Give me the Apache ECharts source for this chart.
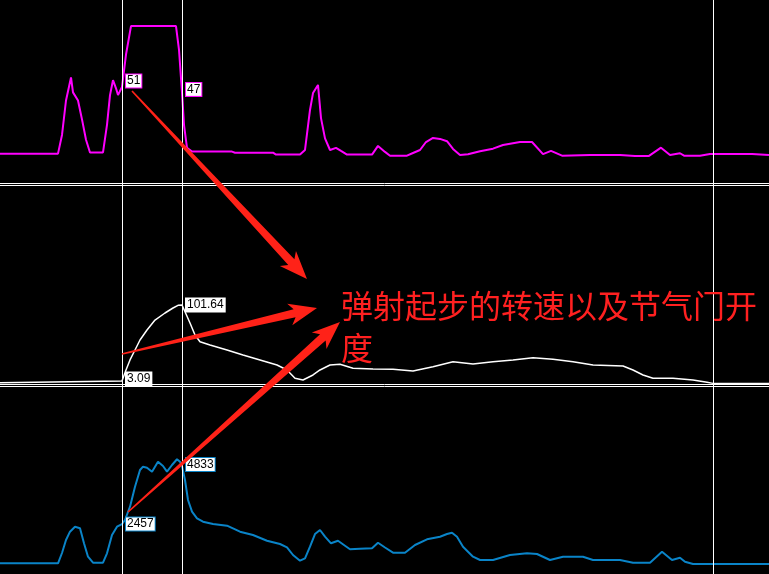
<!DOCTYPE html>
<html><head><meta charset="utf-8">
<script src="https://cdn.jsdelivr.net/npm/echarts@6/dist/echarts.min.js"></script>
<style>html,body{margin:0;padding:0;background:#000;}#c{width:769px;height:574px;}</style>
</head><body><div id="c"></div>
<script>
// time axis in samples
const throttleT = [0,58,62,66,71,73,78,82,86,90,103,107,110,113,116,118,122,126,131,176,179,182,184,187,192,232,235,273,276,300,305,310,313,318,321,325,330,336,341,347,372,378,385,390,407,413,420,426,433,440,447,453,460,468,480,493,503,520,532,543,551,562,590,620,635,649,661,670,680,684,700,710,752,769];
const throttleV = [1.7,1.7,15.5,41,58,47,41,27,12,2.6,2.6,23,45,56,50,45,51,75,96,96,78.5,47,23,6,3.2,3.2,2.4,2.4,1,1,4.4,34,46.5,52.5,28,13,4.4,6,3.7,1,1,7.4,3,0.2,0.2,2.2,4.4,10.3,13.3,12.6,10.9,5.2,0.7,1.3,3.5,5.4,8.1,10.3,10.3,1.3,3.7,0.2,0.7,0.7,0,0,6.1,0.7,2,0.2,0.2,1.5,1.5,0.7];

const speedT = [0,122,126,130,135,140,147,155,165,173,178,182,185,190,195,200,210,227,243,260,277,287,295,303,313,320,330,340,353,373,393,413,433,453,473,493,513,533,553,573,593,623,633,643,653,673,693,707,713,769];
const speedV = [0.9,3.09,17.4,30.4,43.3,56.3,69.3,82.2,91.3,97.8,101.3,101.64,93,78.3,62.8,54.1,49.8,43.3,36.8,30.4,23.9,17.4,6.6,4.4,10.9,17.4,23.9,24.8,19.6,18.7,18.3,16.1,21.7,28.1,25.2,28.1,30.4,33.3,31.3,28.1,23.9,22.6,17.4,10.9,6.6,6.6,4.4,1.4,0,0];

const rpmT = [0,58,62,66,70,75,80,84,88,93,103,107,112,117,122,125,130,135,140,143,147,152,155,158,163,167,172,177,180,182,185,188,192,197,203,213,227,240,253,267,280,287,293,300,305,310,315,320,325,331,338,345,350,360,372,378,385,393,405,415,427,440,447,452,457,463,473,480,493,510,527,537,550,563,583,593,620,633,650,662,672,680,685,693,769];
const rpmV = [848,848,1270,1803,2143,2347,2281,1667,1118,873,873,1258,2007,2347,2457,2622,3167,3986,4670,4805,4764,4601,4805,5010,4834,4601,4875,5109,5010,4833,4261,3441,2962,2692,2552,2458,2388,2143,2007,1774,1639,1503,1188,955,1053,1528,2048,2212,1938,1667,1774,1569,1422,1446,1462,1692,1495,1282,1282,1598,1831,1938,2048,2102,1938,1528,1118,983,983,1188,1258,1229,983,1118,1118,983,983,873,873,1323,983,1077,914,819,819];

const cursorT = [122, 182, 713];
const labelT = [122, 182];
const annotationText = '弹射起步的转速以及节气门开\n度';

const chart = echarts.init(document.getElementById('c'), null, {renderer:'canvas'});
const pair = (T,V)=>T.map((t,i)=>[t,V[i]]);
const valAt = (T,V,t)=>V[T.indexOf(t)];

function marks(T,V,border,offsets){
  return {
    symbol:'rect', symbolSize:0, silent:true,
    data: labelT.map((t,i)=>({coord:[t,valAt(T,V,t)], value:valAt(T,V,t), label:{offset:offsets[i]}})),
    label:{show:true, position:'right', distance:4, formatter:p=>String(p.value),
      color:'#000', fontSize:12, fontFamily:'Liberation Sans, Arial, sans-serif',
      backgroundColor:'#fff', borderColor:border, borderWidth:1, padding:[1,1,0,1], lineHeight:12}
  };
}

const hiddenX = (grid, pos, showLine)=>({type:'value', gridIndex:grid, min:0, max:769, position:pos,
  axisLine:{show:showLine, onZero:false, lineStyle:{color:'#fff', width:1}},
  axisTick:{show:false}, axisLabel:{show:false}, splitLine:{show:false}});
const hiddenY = (grid, min, max)=>({type:'value', gridIndex:grid, min:min, max:max, show:false, splitLine:{show:false}});

chart.setOption({
  backgroundColor:'#000',
  animation:false,
  grid:[
    {left:0,right:0,top:0,height:183},
    {left:0,right:0,top:185.5,height:198.5},
    {left:0,right:0,top:386.5,height:187.5},
    {left:0,right:0,top:0,height:574}
  ],
  xAxis:[hiddenX(0,'bottom',true), hiddenX(1,'top',true), hiddenX(1,'bottom',true), hiddenX(2,'top',true), hiddenX(3,'bottom',false)],
  yAxis:[hiddenY(0,-20,115.3), hiddenY(1,-0.8,256.7), hiddenY(2,410,8090), hiddenY(3,0,1)],
  series:[
    {type:'line', xAxisIndex:4, yAxisIndex:3, data:[[0,-5],[769,-5]], symbol:'none', lineStyle:{opacity:0}, z:1,
      markLine:{silent:true, symbol:['none','none'], label:{show:false}, animation:false,
        lineStyle:{color:'#fff', width:1, type:'solid'}, data:cursorT.map(t=>({xAxis:t}))}},
    {name:'节气门', type:'line', xAxisIndex:0, yAxisIndex:0, data:pair(throttleT,throttleV), symbol:'none', z:3,
      lineStyle:{color:'#ff00ff', width:2}, markPoint:marks(throttleT,throttleV,'#ff00ff',[[0,-6],[0,-3]])},
    {name:'车速', type:'line', xAxisIndex:1, yAxisIndex:1, data:pair(speedT,speedV), symbol:'none', z:3,
      lineStyle:{color:'#ffffff', width:1.5}, markPoint:marks(speedT,speedV,'#ffffff',[[0,-2],[0,0]])},
    {name:'转速', type:'line', xAxisIndex:3, yAxisIndex:2, data:pair(rpmT,rpmV), symbol:'none', z:3,
      lineStyle:{color:'#0a84c8', width:2}, markPoint:marks(rpmT,rpmV,'#0a84c8',[[0,0],[0,-1.5]])}
  ]
});

function arrow(x0,y0,x1,y1){
  const dx=x1-x0, dy=y1-y0, len=Math.hypot(dx,dy), ux=dx/len, uy=dy/len, nx=-uy, ny=ux;
  const L=28, W=11, ws=4.2, wt=0.8, notch=5;
  const bx=x1-ux*L, by=y1-uy*L;
  const nxb=x1-ux*(L-notch), nyb=y1-uy*(L-notch);
  const pts=[
    [x0+nx*wt,y0+ny*wt],[nxb+nx*ws,nyb+ny*ws],[bx+nx*W,by+ny*W],[x1,y1],
    [bx-nx*W,by-ny*W],[nxb-nx*ws,nyb-ny*ws],[x0-nx*wt,y0-ny*wt]];
  return {type:'polygon', z:100, shape:{points:pts}, style:{fill:'#ff2218'}};
}

chart.setOption({
  graphic:[
    arrow(132,91,307,279),
    arrow(122,354,317,308),
    arrow(128,512,340,322),
    {type:'text', z:100, x:341, y:285, style:{text:annotationText, fill:'#ff2020',
      fontSize:32, fontFamily:'Noto Sans CJK SC', lineHeight:42, verticalAlign:'top'}}
  ]
});
</script></body></html>
